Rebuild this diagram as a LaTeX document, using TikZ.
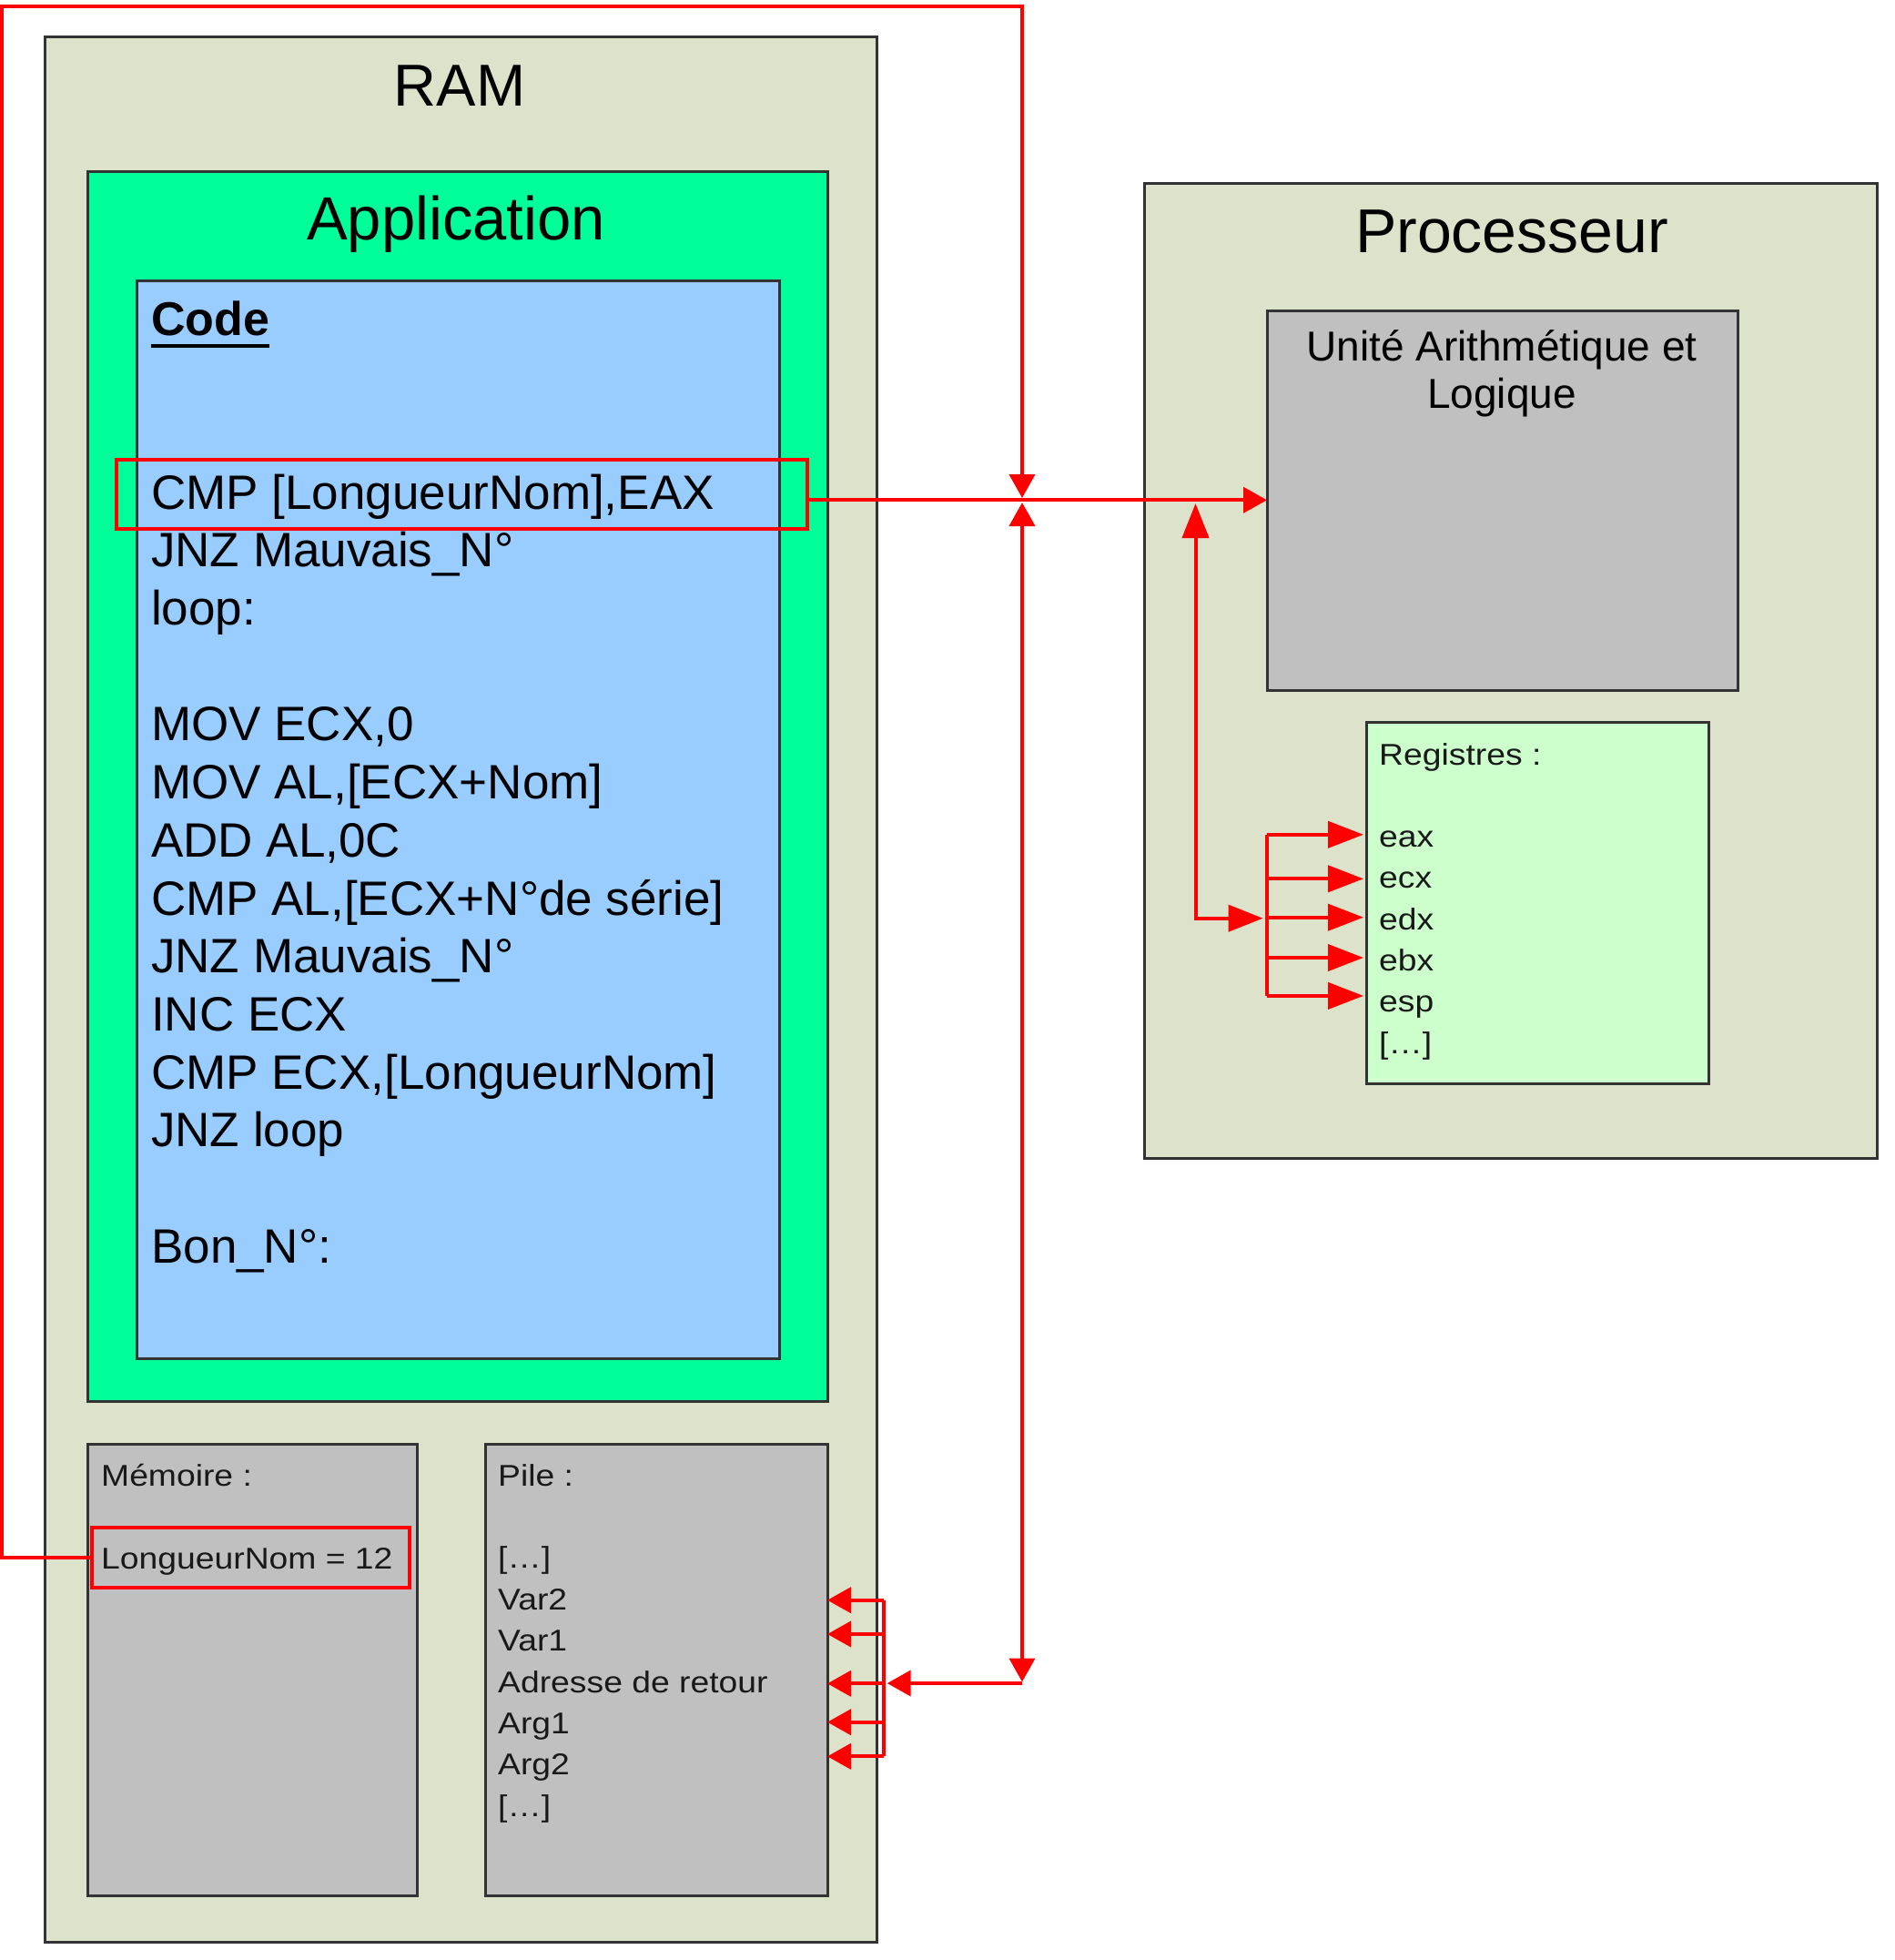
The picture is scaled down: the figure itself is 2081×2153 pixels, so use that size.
\documentclass[tikz,border=0pt]{standalone}
\usepackage{fontspec}
\setmainfont{Liberation Sans}
\newfontfamily\smallfont[FakeStretch=1.13]{Liberation Sans}
\usetikzlibrary{arrows.meta}
\definecolor{ramfill}{HTML}{DDE2CA}
\definecolor{appfill}{HTML}{00FF99}
\definecolor{codefill}{HTML}{99CCFF}
\definecolor{greyfill}{HTML}{C0C0C0}
\definecolor{regfill}{HTML}{CCFFCC}
\definecolor{hlred}{HTML}{FF0000}
\definecolor{edge}{HTML}{333333}
\begin{document}
\begin{tikzpicture}[x=1pt,y=-1pt,
  box/.style={draw=edge, line width=3pt, inner sep=0pt, outer sep=0pt, anchor=north west},
  hl/.style={draw=hlred, line width=4pt, inner sep=0pt, outer sep=0pt, anchor=north west},
  conn/.style={draw=hlred, line width=4pt},
  tipS/.style={-{Triangle[length=26pt,width=28pt]}},
  tipSS/.style={{Triangle[length=26pt,width=28pt]}-{Triangle[length=26pt,width=28pt]}},
  tipLL/.style={{Triangle[length=38pt,width=29pt]}-{Triangle[length=38pt,width=29pt]}},
  tipL/.style={-{Triangle[length=39pt,width=29pt]}},
  txt/.style={inner sep=0pt, anchor=base west},
  title/.style={inner sep=0pt, anchor=base},
  codef/.style={txt, font=\fontsize{53}{64}\selectfont},
  smallf/.style={txt, text=black!90, font=\smallfont\fontsize{33}{40}\selectfont}
]
\useasboundingbox (0,0) rectangle (2081,2153);
\fill[white] (0,0) rectangle (2081,2153);

% ---------- boxes ----------
\node[box, fill=ramfill, minimum width=914pt, minimum height=2093pt] (ram) at (49,40) {};
\node[box, fill=appfill, minimum width=813pt, minimum height=1351pt] (app) at (96,188) {};
\node[box, fill=codefill, minimum width=706pt, minimum height=1184pt] (code) at (150,308) {};
\node[box, fill=greyfill, minimum width=362pt, minimum height=496pt] (mem) at (96,1586) {};
\node[box, fill=greyfill, minimum width=376pt, minimum height=496pt] (pile) at (533,1586) {};
\node[box, fill=ramfill, minimum width=805pt, minimum height=1071pt] (proc) at (1257,201) {};
\node[box, fill=greyfill, minimum width=517pt, minimum height=417pt] (alu) at (1392,341) {};
\node[box, fill=regfill, minimum width=376pt, minimum height=397pt] (reg) at (1501,793) {};

% ---------- titles ----------
\node[title, font=\fontsize{65}{78}\selectfont] (ramt) at (505,116) {RAM};
\node[title, font=\fontsize{67}{80}\selectfont] (appt) at (501,263.4) {Application};
\node[title, font=\fontsize{68}{82}\selectfont] (proct) at (1661,277) {Processeur};
\node[title, font=\fontsize{46}{52}\selectfont] (alut1) at (1650,396.7) {Unité Arithmétique et};
\node[title, font=\fontsize{46}{52}\selectfont] (alut2) at (1650,448) {Logique};

% ---------- code ----------
\node[codef, font=\bfseries\fontsize{52}{64}\selectfont] (c0) at (166,368) {Code};
\draw[line width=4pt] ([yshift=-12pt]c0.base west) -- ([yshift=-12pt]c0.base east);
\node[codef] (c3) at (166,368+3*63.7) {CMP [LongueurNom],EAX};
\node[codef] (c4) at (166,368+4*63.7) {JNZ Mauvais\_N°};
\node[codef] (c5) at (166,368+5*63.7) {loop:};
\node[codef] (c7) at (166,368+7*63.7) {MOV ECX,0};
\node[codef] (c8) at (166,368+8*63.7) {MOV AL,[ECX+Nom]};
\node[codef] (c9) at (166,368+9*63.7) {ADD AL,0C};
\node[codef] (c10) at (166,368+10*63.7) {CMP AL,[ECX+N°de série]};
\node[codef] (c11) at (166,368+11*63.7) {JNZ Mauvais\_N°};
\node[codef] (c12) at (166,368+12*63.7) {INC ECX};
\node[codef] (c13) at (166,368+13*63.7) {CMP ECX,[LongueurNom]};
\node[codef] (c14) at (166,368+14*63.7) {JNZ loop};
\node[codef] (c16) at (166,368+16*63.7) {Bon\_N°:};

% ---------- small texts ----------
\node[smallf] (m0) at (111,1632.7) {Mémoire :};
\node[smallf] (m2) at (111,1723.5) {LongueurNom = 12};
\foreach \k/\t in {0/Pile :,2/[…],3/Var2,4/Var1,5/Adresse de retour,6/Arg1,7/Arg2,8/[…]}
  \node[smallf] (p\k) at (547,1632+\k*45.4) {\t};
\foreach \k/\t in {0/Registres :,2/eax,3/ecx,4/edx,5/ebx,6/esp,7/[…]}
  \node[smallf] (r\k) at (1515,840+\k*45.3) {\t};

% ---------- highlight boxes ----------
\node[hl, minimum width=759pt, minimum height=76pt] (hlcmp) at (128,505) {};
\node[hl, minimum width=349pt, minimum height=66pt] (hlmem) at (101,1678) {};

% ---------- connectors ----------
\coordinate (j) at (1123,549.3);
\coordinate (jt) at (1123,547);
\coordinate (jb) at (1123,552);
\coordinate (topl) at (2,7);
\coordinate (sc) at (1123,1849);
\coordinate (scd) at (1123,1847.5);
\coordinate (sbr) at (970.7,1849);
\coordinate (ju) at (1313.5,553);
\coordinate (jc) at (1313.5,1008.7);
\coordinate (rbr) at (1391.6,1008.7);

\draw[conn, tipS] (hlcmp.east |- j) -- (j -| alu.west);
\draw[conn, tipS] (hlmem.west) -| (topl) -| (jt);
\draw[conn, tipSS] (jb) -- (scd);
\draw[conn, tipS] (sc) -- ([xshift=4pt]sbr);
\draw[conn] (970.7,1757.7) -- (970.7,1929.3);
\foreach \y in {1757.7,1795,1849.3,1891.7,1929.3}
  \draw[conn, tipS] (970.7,\y) -- (pile.east |- 0,\y);

\draw[conn, tipLL] (ju) -- (jc) -- ([xshift=-4pt]rbr);
\draw[conn] (1391.6,916.8) -- (1391.6,1093.9);
\foreach \y in {916.8,965.3,1007.7,1052,1093.9}
  \draw[conn, tipL] (1391.6,\y) -- ([xshift=-3pt]reg.west |- 0,\y);
\end{tikzpicture}
\end{document}
